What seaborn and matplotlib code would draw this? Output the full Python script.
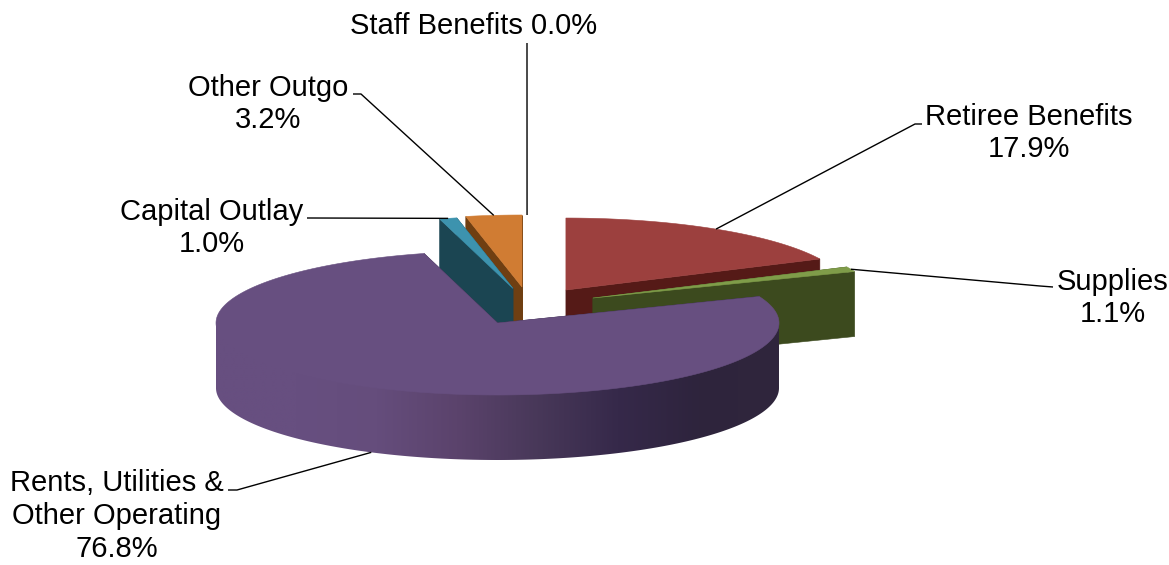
import numpy as np
import seaborn as sns
import matplotlib.pyplot as plt
from matplotlib.patches import Polygon

# Chart data
labels = ['Staff Benefits', 'Retiree Benefits', 'Supplies',
          'Rents, Utilities &\nOther Operating', 'Capital Outlay', 'Other Outgo']
values = [0.0, 17.9, 1.1, 76.8, 1.0, 3.2]

# Slice styles
top_colors = ['#ffffff', '#9c403e', '#7f9c49', '#674f80', '#3d93ae', '#d07c33']
wall_colors = ['#ffffff', '#551a17', '#3c4a1e', '#2b2239', '#1b4552', '#6f3f12']
rim_stops = ['#674f80', '#674f80', '#654d7c', '#5b436c', '#483859', '#36294a', '#2e243d', '#30263c']
explode_x = [0.105, 0.243, 0.339, 0.0, 0.055, 0.087]
explode_y = [-0.50, -0.458, -0.347, 0.0, -0.48, -0.50]
draw_order = [1, 2, 5, 4, 3]

# Layout in pixels
center_x, center_y = 497.5, 323
radius_x, radius_y = 281.5, 72
depth = 65
font_size = 21

# Text centre and leader points per slice
label_text = ['Staff Benefits 0.0%', 'Retiree Benefits\n17.9%', 'Supplies\n1.1%',
              'Rents, Utilities &\nOther Operating\n76.8%', 'Capital Outlay\n1.0%',
              'Other Outgo\n3.2%']
label_pos = [(474, 26), (1029, 133), (1113, 298), (117, 516), (212, 228), (268, 104)]
leader_elbow = [(527, 60), (915, 124), (1040, 286), (237, 490), (310, 218), (361, 94)]
leader_end = [(527, 43), (922, 124), (1053, 287), (228, 490), (307, 218), (353, 94)]

sns.set_theme(style='white')
plt.rcParams['font.family'] = ['Liberation Sans', 'DejaVu Sans']


def ellipse_point(cx, cy, theta):
    # theta is in degrees, clockwise from twelve o'clock
    rad = np.radians(theta)
    return cx + radius_x * np.sin(rad), cy - radius_y * np.cos(rad)


def draw_slice(ax, cx, cy, start, end, top, wall, rim_palette, z):
    # cut faces first
    for edge in (start, end):
        ex, ey = ellipse_point(cx, cy, edge)
        face = [(cx, cy), (ex, ey), (ex, ey + depth), (cx, cy + depth)]
        ax.add_patch(Polygon(face, closed=True, fc=wall, ec=wall, lw=0.4, zorder=z))

    # outer rim, only the part turned to the viewer, shaded left to right
    rim_start, rim_end = max(start, 90), min(end, 270)
    if rim_end > rim_start:
        thetas = np.linspace(rim_start, rim_end, 361)
        x, y = ellipse_point(cx, cy, thetas)
        # rim runs a little under the top face so no seam shows
        outline = list(zip(x, y - 3)) + list(zip(x[::-1], y[::-1] + depth))
        clip = Polygon(outline, closed=True, fc='none', ec='none')
        ax.add_patch(clip)
        shade = np.array(rim_palette)[np.newaxis, :, :]
        im = ax.imshow(shade, extent=(cx - radius_x, cx + radius_x, y.max() + depth, y.min() - 3),
                       aspect='auto', interpolation='bilinear', zorder=z + 0.1)
        im.set_clip_path(clip)

    # top face
    thetas = np.linspace(start, end, max(int(end - start) * 2, 2) + 1)
    x, y = ellipse_point(cx, cy, thetas)
    outline = [(cx, cy)] + list(zip(x, y))
    ax.add_patch(Polygon(outline, closed=True, fc=top, ec=top, lw=0.4, zorder=z + 0.2))


fig = plt.figure(figsize=(11.69, 5.65), dpi=100)
ax = fig.add_axes([0, 0, 1, 1])
ax.axis('off')

rim_palette = sns.blend_palette(rim_stops, n_colors=256)

edges = np.concatenate([[0], np.cumsum(values)]) / sum(values) * 360
centers = [(center_x + radius_x * ex, center_y + radius_y * ey)
           for ex, ey in zip(explode_x, explode_y)]

for z, i in enumerate(draw_order):
    draw_slice(ax, centers[i][0], centers[i][1], edges[i], edges[i + 1],
               top_colors[i], wall_colors[i], rim_palette, z + 1)

# Leaders start on the slice at the middle of its angle
for i in range(len(values)):
    mid = (edges[i] + edges[i + 1]) / 2
    ax_x, ax_y = ellipse_point(centers[i][0], centers[i][1], mid)
    if 90 < mid < 270:
        ax_y += depth
    ax.plot([ax_x, leader_elbow[i][0], leader_end[i][0]],
            [ax_y, leader_elbow[i][1], leader_end[i][1]],
            color='black', lw=1.0, solid_capstyle='butt', zorder=10)

for i in range(len(values)):
    ax.text(label_pos[i][0], label_pos[i][1], label_text[i], fontsize=font_size,
            ha='center', va='center', color='black', linespacing=1.227, zorder=11)

ax.set_xlim(0, 1169)
ax.set_ylim(565, 0)
fig.savefig('out.png', dpi=100)
